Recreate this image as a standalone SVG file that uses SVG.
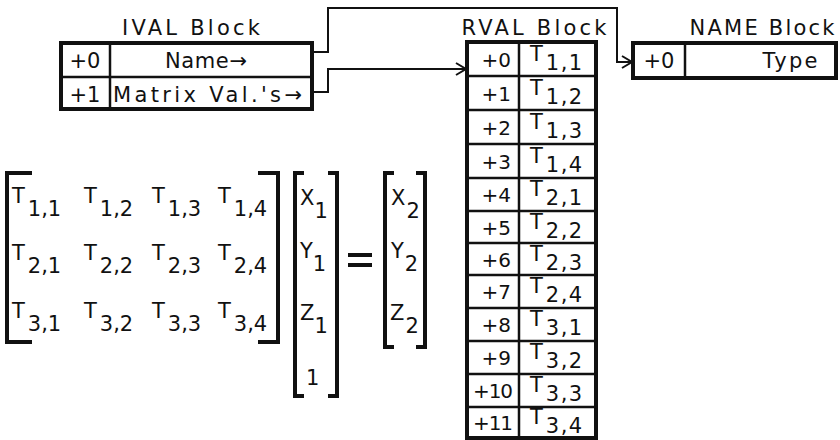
<svg xmlns="http://www.w3.org/2000/svg" width="840" height="440" viewBox="0 0 840 440">
<style>
text{font-family:"DejaVu Sans","Liberation Sans",Arial,sans-serif;font-size:21px;fill:#111}
.box{fill:#fff;stroke:#111;stroke-width:4}
.ln{stroke:#111;stroke-width:2.5;fill:none}
.br{stroke:#111;stroke-width:4;fill:none}
.con{stroke:#111;stroke-width:2;fill:none}
.t{font-size:21px}
.off{font-size:20px;text-anchor:end}
.ctr{text-anchor:middle}
.sub{letter-spacing:1.5px}
</style>
<defs>
<marker id="ah" markerUnits="userSpaceOnUse" markerWidth="14" markerHeight="14" refX="12" refY="7" orient="auto">
<path d="M2,1 L12,7 L2,13" fill="none" stroke="#111" stroke-width="2"/>
</marker>
</defs>
<rect width="840" height="440" fill="#fff"/>

<g id="connectors">
<polyline class="con" points="312,52 328,52 328,8 617,8 617,62 632,62" marker-end="url(#ah)"/>
<polyline class="con" points="312,92 328,92 328,69 466,69" marker-end="url(#ah)"/>
</g>

<g id="ival">
<text x="191" y="35" class="ctr" textLength="138">IVAL Block</text>
<rect class="box" x="61" y="43" width="251" height="66"/>
<line class="ln" x1="61" y1="77" x2="312" y2="77"/>
<line class="ln" x1="110" y1="43" x2="110" y2="109"/>
<text x="85" y="68" class="ctr" font-size="20">+0</text>
<text x="206" y="68" class="ctr" textLength="82">Name→</text>
<text x="85" y="102" class="ctr" font-size="20">+1</text>
<text x="113" y="102" textLength="189">Matrix Val.'s→</text>
</g>

<g id="rval">
<text x="534" y="35" class="ctr" textLength="145">RVAL Block</text>
<rect class="box" x="467" y="42" width="129" height="396"/>
<line class="ln" x1="519" y1="42" x2="519" y2="438"/>
<line class="ln" x1="467" y1="76" x2="596" y2="76"/>
<line class="ln" x1="467" y1="110" x2="596" y2="110"/>
<line class="ln" x1="467" y1="144" x2="596" y2="144"/>
<line class="ln" x1="467" y1="178" x2="596" y2="178"/>
<line class="ln" x1="467" y1="211" x2="596" y2="211"/>
<line class="ln" x1="467" y1="243" x2="596" y2="243"/>
<line class="ln" x1="467" y1="275" x2="596" y2="275"/>
<line class="ln" x1="467" y1="308" x2="596" y2="308"/>
<line class="ln" x1="467" y1="341" x2="596" y2="341"/>
<line class="ln" x1="467" y1="374" x2="596" y2="374"/>
<line class="ln" x1="467" y1="407" x2="596" y2="407"/>
<text class="off" x="511" y="67">+0</text>
<text class="off" x="511" y="101">+1</text>
<text class="off" x="511" y="135">+2</text>
<text class="off" x="511" y="169">+3</text>
<text class="off" x="511" y="202">+4</text>
<text class="off" x="511" y="235">+5</text>
<text class="off" x="511" y="267">+6</text>
<text class="off" x="511" y="299">+7</text>
<text class="off" x="511" y="332">+8</text>
<text class="off" x="511" y="365">+9</text>
<text class="off" x="513" y="398" textLength="40">+10</text>
<text class="off" x="513" y="430" textLength="40">+11</text>
<text class="t" x="530" y="61">T<tspan class="sub" dx="3" dy="9">1,1</tspan></text>
<text class="t" x="530" y="95">T<tspan class="sub" dx="3" dy="9">1,2</tspan></text>
<text class="t" x="530" y="129">T<tspan class="sub" dx="3" dy="9">1,3</tspan></text>
<text class="t" x="530" y="163">T<tspan class="sub" dx="3" dy="9">1,4</tspan></text>
<text class="t" x="530" y="196">T<tspan class="sub" dx="3" dy="9">2,1</tspan></text>
<text class="t" x="530" y="229">T<tspan class="sub" dx="3" dy="9">2,2</tspan></text>
<text class="t" x="530" y="261">T<tspan class="sub" dx="3" dy="9">2,3</tspan></text>
<text class="t" x="530" y="293">T<tspan class="sub" dx="3" dy="9">2,4</tspan></text>
<text class="t" x="530" y="326">T<tspan class="sub" dx="3" dy="9">3,1</tspan></text>
<text class="t" x="530" y="359">T<tspan class="sub" dx="3" dy="9">3,2</tspan></text>
<text class="t" x="530" y="392">T<tspan class="sub" dx="3" dy="9">3,3</tspan></text>
<text class="t" x="530" y="424">T<tspan class="sub" dx="3" dy="9">3,4</tspan></text>
</g>

<g id="name">
<text x="762" y="35" class="ctr" textLength="145">NAME Block</text>
<rect class="box" x="633" y="43" width="203" height="35"/>
<line class="ln" x1="685" y1="43" x2="685" y2="78"/>
<text x="659" y="68" class="ctr" font-size="20">+0</text>
<text x="790" y="68" class="ctr" textLength="55">Type</text>
</g>

<g id="matrix">
<path class="br" d="M32,173 H7 V342 H32"/>
<path class="br" d="M258,173 H278 V342 H258"/>
<text class="t" x="12" y="203">T<tspan dx="3" dy="13">1,1</tspan></text>
<text class="t" x="84" y="203">T<tspan dx="3" dy="13">1,2</tspan></text>
<text class="t" x="152" y="203">T<tspan dx="3" dy="13">1,3</tspan></text>
<text class="t" x="218" y="203">T<tspan dx="3" dy="13">1,4</tspan></text>
<text class="t" x="12" y="260">T<tspan dx="3" dy="13">2,1</tspan></text>
<text class="t" x="84" y="260">T<tspan dx="3" dy="13">2,2</tspan></text>
<text class="t" x="152" y="260">T<tspan dx="3" dy="13">2,3</tspan></text>
<text class="t" x="218" y="260">T<tspan dx="3" dy="13">2,4</tspan></text>
<text class="t" x="12" y="318">T<tspan dx="3" dy="13">3,1</tspan></text>
<text class="t" x="84" y="318">T<tspan dx="3" dy="13">3,2</tspan></text>
<text class="t" x="152" y="318">T<tspan dx="3" dy="13">3,3</tspan></text>
<text class="t" x="218" y="318">T<tspan dx="3" dy="13">3,4</tspan></text>
</g>

<g id="vector1">
<path class="br" d="M304,173 H295 V396 H304"/>
<path class="br" d="M328,173 H337 V396 H328"/>
<text class="t" x="300" y="205" font-size="19">X<tspan dx="0" dy="13">1</tspan></text>
<text class="t" x="300" y="258" font-size="19">Y<tspan dx="0" dy="13">1</tspan></text>
<text class="t" x="300" y="320" font-size="19">Z<tspan dx="0" dy="13">1</tspan></text>
<text class="t" x="306" y="385" font-size="19">1</text>
</g>

<g id="equals">
<rect x="348" y="253" width="24" height="4" fill="#111"/>
<rect x="348" y="263" width="24" height="4" fill="#111"/>
</g>

<g id="vector2">
<path class="br" d="M394,173 H385 V347 H394"/>
<path class="br" d="M416,173 H425 V347 H416"/>
<text class="t" x="391" y="205" font-size="19">X<tspan dx="1" dy="13">2</tspan></text>
<text class="t" x="391" y="258" font-size="19">Y<tspan dx="1" dy="13">2</tspan></text>
<text class="t" x="390" y="320" font-size="19">Z<tspan dx="1" dy="13">2</tspan></text>
</g>
</svg>
